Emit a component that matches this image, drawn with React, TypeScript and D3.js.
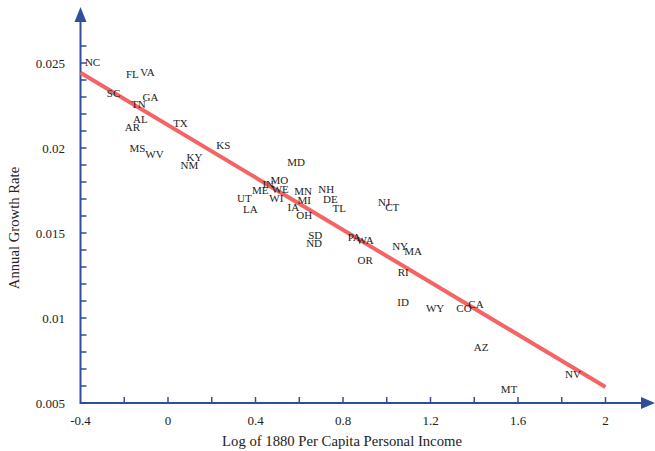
import React from "react";
import * as d3 from "d3";

const states = ["NC","FL","VA","SC","GA","TN","AL","AR","TX","MS","WV","KY","NM","KS","MD","MO","IN","ME","WE","UT","WI","LA","MN","MI","IA","OH","NH","DE","TL","NJ","CT","SD","ND","PA","WA","NY","MA","OR","RI","ID","WY","CO","CA","AZ","NV","MT"];
const logIncome = [-0.345,-0.163,-0.094,-0.249,-0.080,-0.135,-0.126,-0.163,0.057,-0.140,-0.062,0.121,0.098,0.253,0.586,0.509,0.458,0.422,0.513,0.349,0.495,0.376,0.618,0.623,0.573,0.623,0.723,0.742,0.783,0.988,1.025,0.673,0.668,0.851,0.901,1.061,1.121,0.901,1.075,1.075,1.221,1.353,1.408,1.431,1.851,1.559];
const growth = [0.02506,0.02435,0.02447,0.02324,0.0230,0.02259,0.02171,0.02124,0.02147,0.0200,0.01965,0.01947,0.0190,0.02018,0.01918,0.01812,0.01788,0.01753,0.01759,0.01706,0.01706,0.01641,0.01747,0.01694,0.01653,0.01606,0.01759,0.0170,0.01647,0.01682,0.01653,0.01488,0.01441,0.01476,0.01459,0.01424,0.01394,0.01341,0.01271,0.01094,0.01059,0.01059,0.01082,0.00829,0.00671,0.00582];
const fitX = [-0.4, 2];
const fitY = [0.02443, 0.00594];
const xTickLabels = [-0.4, 0, 0.4, 0.8, 1.2, 1.6, 2];
const yTickLabels = [0.005, 0.01, 0.015, 0.02, 0.025];

const AXIS = "#2f4f9c";
const FONT = "'Liberation Serif', 'Times New Roman', serif";

export default function App() {
  const W = 655, H = 451;
  const x = d3.scaleLinear().domain([-0.4, 2]).range([80.5, 605.5]);
  const y = d3.scaleLinear().domain([0.005, 0.025]).range([403, 63]);
  const xMinor = d3.range(-0.2, 2.01, 0.2);
  const yMinor = d3.range(6, 26.5, 1).map((v) => v / 1000);
  const line = d3.line<number>().x((_, i) => x(fitX[i])).y((_, i) => y(fitY[i]));
  const fmtX = (v: number) => (Math.abs(v) < 1e-9 ? "0" : String(+v.toFixed(1)));
  return (
    <svg width={W} height={H} style={{ position: "absolute", left: 0, top: 0, background: "#fff" }} fontFamily={FONT}>
      {/* x axis */}
      <line x1={x(-0.4)} x2={645} y1={403} y2={403} stroke={AXIS} strokeWidth={2} />
      <path d={`M655,403 L641,397 L641,409 Z`} fill={AXIS} />
      {xMinor.map((v, i) => (
        <line key={"xt" + i} x1={x(v)} x2={x(v)} y1={403} y2={397} stroke={AXIS} strokeWidth={1.5} />
      ))}
      {xTickLabels.map((v, i) => (
        <text key={"xl" + i} x={x(v)} y={425} textAnchor="middle" fontSize={13} fill="#222">{fmtX(v)}</text>
      ))}
      {/* y axis */}
      <line x1={x(-0.4)} x2={x(-0.4)} y1={404} y2={20} stroke={AXIS} strokeWidth={2} />
      <path d={`M${x(-0.4)},7 L${x(-0.4) - 6},22 L${x(-0.4) + 6},22 Z`} fill={AXIS} />
      {yMinor.map((v, i) => (
        <line key={"yt" + i} x1={x(-0.4)} x2={x(-0.4) + 6} y1={y(v)} y2={y(v)} stroke={AXIS} strokeWidth={1.5} />
      ))}
      {yTickLabels.map((v, i) => (
        <text key={"yl" + i} x={65} y={y(v) + 4.5} textAnchor="end" fontSize={13} fill="#222">{String(v)}</text>
      ))}
      {/* fit line */}
      <path d={line(fitX) || ""} stroke="#f46464" strokeWidth={4} fill="none" />
      {/* labels */}
      {states.map((s, i) => (
        <text key={s + i} x={x(logIncome[i])} y={y(growth[i])} dy="0.35em" textAnchor="middle" fontSize={11} fill="#222">{s}</text>
      ))}
      <text x={342} y={446} textAnchor="middle" fontSize={14.7} fill="#222">Log of 1880 Per Capita Personal Income</text>
      <text transform={`translate(19,228) rotate(-90)`} textAnchor="middle" fontSize={14.7} fill="#222">Annual Growth Rate</text>
    </svg>
  );
}
